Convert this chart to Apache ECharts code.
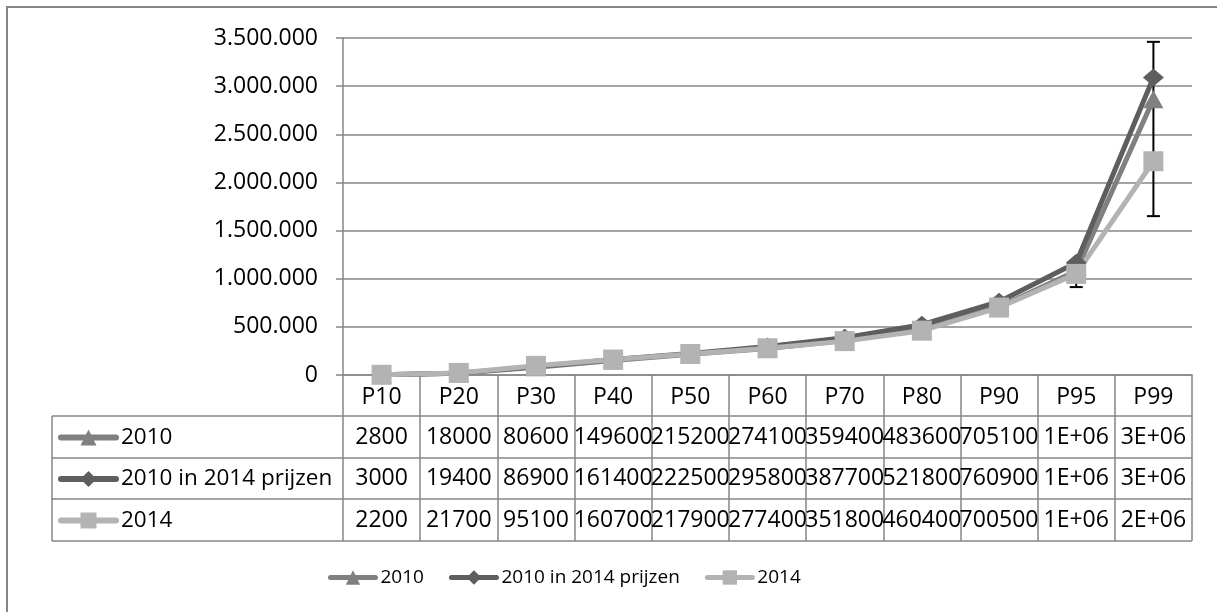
<!DOCTYPE html>
<html>
<head>
<meta charset="utf-8">
<script src="https://cdn.jsdelivr.net/npm/echarts@6/dist/echarts.min.js"></script>
<style>
html,body{margin:0;padding:0;background:#fff;}
#c{width:1217px;height:612px;}
</style>
</head>
<body>
<div id="c"></div>
<script>
const categories = ['P10','P20','P30','P40','P50','P60','P70','P80','P90','P95','P99'];
const names = ['2010','2010 in 2014 prijzen','2014'];
const s2010 = [2800,18000,80600,149600,215200,274100,359400,483600,705100,1080000,2864000];
const s2010in2014 = [3000,19400,86900,161400,222500,295800,387700,521800,760900,1165000,3090000];
const s2014 = [2200,21700,95100,160700,217900,277400,351800,460400,700500,1050000,2220000];
const errLow = [null,null,null,null,null,null,null,null,null,913000,1650000];
const errHigh = [null,null,null,null,null,null,null,null,null,1050000,3460000];
const yTicks = [0,500000,1000000,1500000,2000000,2500000,3000000,3500000];

const FONT = 'Open Sans';
const FS = 23;
const RFS = 22.5;
const LFS = 19;
const AX = '#868686';
const colors = ['#808080','#5e5e5e','#b3b3b3'];
const symbols = ['triangle','diamond','rect'];
const symSizes = [[20,18],[21,18],[20,20]];
const allData = [s2010, s2010in2014, s2014];

function fmtY(v){ return String(v).replace(/\B(?=(\d{3})+(?!\d))/g,'.'); }
function fmtCell(v){ return v >= 1e6 ? (v/1e6).toFixed(0)+'E+06' : String(v); }

const chart = echarts.init(document.getElementById('c'), null, {renderer:'canvas'});

const gridTop = 38, gridBottom = 375, gridLeft = 343, gridRight = 1192;
const rowLines = [416, 458, 499, 541];
const tableLeft = 52;
const rowCenters = [437, 478.5, 520];

const lineSeries = names.map((n,i)=>({
  name:n, type:'line', data: allData[i],
  symbol: symbols[i], symbolSize: symSizes[i],
  itemStyle:{color: colors[i]},
  lineStyle:{color: colors[i], width:5},
  z:3, animation:false
}));

const errData = categories.map((c,i)=> errLow[i]==null ? null : [i, errLow[i], errHigh[i]]).filter(d=>d);

function mkLegend(data, left, top, fs, w, h, lw, gap){
  return {
    data:data, left:left, top:top, orient:'horizontal', itemWidth:w, itemHeight:h,
    itemGap:gap||10, selectedMode:false, padding:0,
    textStyle:{fontFamily:FONT, fontSize:fs, color:'#000'},
    lineStyle:{width:lw, cap:'round'}
  };
}

const option = {
  animation:false,
  backgroundColor:'#fff',
  grid:{left:gridLeft, right:1217-gridRight, top:gridTop, bottom:612-gridBottom, containLabel:false},
  legend:[
    mkLegend(names, 328, 568, LFS, 45, 18, 5, 25),
    mkLegend([names[0]], 58, rowCenters[0]-11, RFS, 55, 20, 6),
    mkLegend([names[1]], 58, rowCenters[1]-11, RFS, 55, 20, 6),
    mkLegend([names[2]], 58, rowCenters[2]-11, RFS, 55, 20, 6)
  ],
  xAxis:{
    type:'category', data:categories, boundaryGap:true,
    axisLine:{show:true, lineStyle:{color:AX, width:1.5}},
    axisTick:{show:true, interval:0, length:166, lineStyle:{color:AX, width:1.5}},
    axisLabel:{fontFamily:FONT, fontSize:FS, color:'#000', margin:10, lineHeight:24, interval:0}
  },
  yAxis:{
    type:'value', min:0, max:3500000, interval:500000,
    axisLine:{show:true, lineStyle:{color:AX, width:1.5}},
    axisTick:{show:true, length:7, lineStyle:{color:AX, width:1.5}},
    splitLine:{show:true, lineStyle:{color:AX, width:1.5}},
    axisLabel:{fontFamily:FONT, fontSize:FS, color:'#000', margin:25, formatter:fmtY}
  },
  series:[
    {
      type:'custom', name:'err', data:errData, z:1, silent:true,
      encode:{x:0, y:[1,2]},
      renderItem:function(params, api){
        const x = api.value(0);
        const lo = api.coord([x, api.value(1)]);
        const hi = api.coord([x, api.value(2)]);
        const hw = 6.5;
        const st = {stroke:'#000', lineWidth:2};
        return {type:'group', children:[
          {type:'line', shape:{x1:lo[0], y1:lo[1], x2:hi[0], y2:hi[1]}, style:st},
          {type:'line', shape:{x1:lo[0]-hw, y1:lo[1], x2:lo[0]+hw, y2:lo[1]}, style:st},
          {type:'line', shape:{x1:hi[0]-hw, y1:hi[1], x2:hi[0]+hw, y2:hi[1]}, style:st}
        ]};
      }
    }
  ].concat(lineSeries)
};

chart.setOption(option);

// data table: cell texts come from the series arrays, x positions from the x axis scale
const g = [];
g.push({type:'rect', shape:{x:7, y:7, width:1400, height:800}, style:{fill:null, stroke:AX, lineWidth:2}, silent:true, z:0});
rowLines.forEach(y=>{
  g.push({type:'line', shape:{x1:tableLeft, y1:y, x2:gridRight, y2:y}, style:{stroke:AX, lineWidth:1.5}, z:5});
});
g.push({type:'line', shape:{x1:tableLeft, y1:rowLines[0], x2:tableLeft, y2:rowLines[3]}, style:{stroke:AX, lineWidth:1.5}, z:5});
allData.forEach((arr, r)=>{
  arr.forEach((v, i)=>{
    const px = chart.convertToPixel({xAxisIndex:0}, i);
    g.push({type:'text', x:px, y:rowCenters[r], style:{text:fmtCell(v), fontFamily:FONT, fontSize:FS, fill:'#000', align:'center', verticalAlign:'middle'}, z:6});
  });
});
chart.setOption({graphic:{elements:g}});
</script>
</body>
</html>
